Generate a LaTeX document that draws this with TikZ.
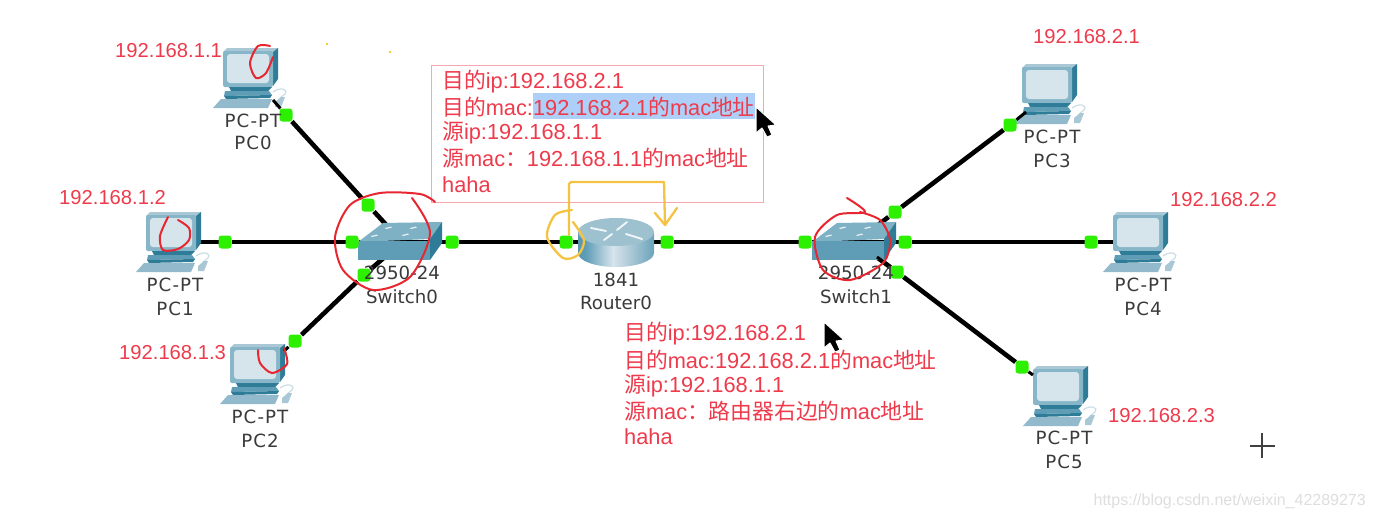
\documentclass[tikz,border=0pt]{standalone}
\usepackage{fontspec}
\setmainfont{Liberation Sans}
\newfontfamily\cjk{Noto Sans CJK SC}
\newfontfamily\devfont{DejaVu Sans}
\newfontfamily\pcfont[LetterSpace=6]{DejaVu Sans}
\usetikzlibrary{backgrounds}
\definecolor{annred}{HTML}{EE3B4C}
\definecolor{inkred}{HTML}{E8262F}
\definecolor{penyellow}{HTML}{F5C344}
\definecolor{portgreen}{HTML}{2CF000}
\definecolor{devteal}{HTML}{5F9DB6}
\definecolor{devdark}{HTML}{2F7C98}
\definecolor{devlight}{HTML}{A9C7D5}
\definecolor{screenc}{HTML}{D6E4EC}
\definecolor{devtext}{HTML}{3A3A3A}
\definecolor{hilite}{HTML}{AECFF7}
\pgfdeclarehorizontalshading{routerbody}{100bp}{
  color(0bp)=(devdark); color(30bp)=(devteal); color(48bp)=(screenc);
  color(60bp)=(devlight); color(78bp)=(devteal); color(100bp)=(devdark)}
\tikzset{
  portdot/.style={fill=portgreen,rounded corners=3pt,minimum size=13pt,inner sep=0pt,outer sep=0pt},
  wire/.style={draw=black,line width=4.6pt},
  devlabel/.style={font=\devfont\fontsize{18.2}{20}\selectfont,text=devtext,inner sep=0pt},
  pclabel/.style={font=\pcfont\fontsize{18.2}{20}\selectfont,text=devtext,inner sep=0pt},
  iplabel/.style={font=\fontsize{20.2}{24}\selectfont,text=annred,inner sep=0pt,anchor=west},
  msgline/.style={font=\fontsize{21.8}{25}\selectfont,text=annred,inner sep=0pt,anchor=west},
  redink/.style={draw=inkred,line width=2pt,line cap=round,line join=round},
  yellowink/.style={draw=penyellow,line width=2.3pt,line cap=round,line join=round},
  pcicon/.pic={
    \fill[devlight] (0,4) -- (4,0) -- (55,0) -- (50,4) -- cycle;
    \fill[devdark] (50,4) -- (55,0) -- (55,31) -- (50,38) -- cycle;
    \fill[devteal!75!white,rounded corners=2pt] (0,3) rectangle (50,39);
    \fill[screenc,rounded corners=3pt] (4,6) rectangle (46,35);
    \fill[devdark] (6,39) -- (49,39) -- (45,43) -- (8,43) -- cycle;
    \fill[devteal] (2,43) -- (46,43) -- (49,47) -- (1,48) -- cycle;
    \fill[devdark] (1,48) -- (49,47) -- (47,50) -- (3,51) -- cycle;
    \fill[devlight!70!devteal] (-2,51) -- (49,51) -- (45,60) -- (-10,60) -- cycle;
    \draw[devlight!60!white,line width=1.2pt] (50,44) .. controls (58,38) and (66,42) .. (62,46) .. controls (60,48) and (58,49) .. (57,50);
    \fill[devlight] (52,54) -- (58,49) -- (62,49) -- (58,59) -- (52,59) -- cycle;
  },
  switchicon/.pic={
    \fill[devteal!80!white] (0,20) -- (25,1) -- (84,0) -- (72,17) -- cycle;
    \fill[devdark] (72,17) -- (84,0) -- (84,21) -- (72,38) -- cycle;
    \fill[devteal] (0,19) rectangle (72,38);
    \foreach \a/\b in {27/6,52/6,13/14,44/13}
      \fill[white!85!devteal] (\a,\b) -- ++(6,-1.5) -- ++(1,1) -- ++(-6,1.5) -- cycle;
  }
}
\newcommand{\cursoricon}[2]{%
  \fill[black,draw=white,line width=1pt,line join=round,shift={(#1,#2)}]
    (0,0) -- (0,26) -- (6,21) -- (11,30) -- (16,28) -- (12,19) -- (20,18) -- cycle;}
\begin{document}
\begin{tikzpicture}[x=1pt,y=-1pt]
\useasboundingbox (0,0) rectangle (1375,520);
% anchors
\coordinate (sw0) at (402,242);
\coordinate (sw1) at (856,242);
\coordinate (r0) at (616,242);
\coordinate (pc0) at (273,100);
\coordinate (pc1) at (195,242);
\coordinate (pc2) at (284,351);
\coordinate (pc3) at (1026,112);
\coordinate (pc4) at (1120,242);
\coordinate (pc5) at (1033,375);
\coordinate (sw1c) at (877,257);
% devices
\pic at (223,48) {pcicon};
\pic at (146,212) {pcicon};
\pic at (230,344) {pcicon};
\pic at (1022,64) {pcicon};
\pic at (1113,212) {pcicon};
\pic at (1033,366) {pcicon};
\pic at (358,222) {switchicon};
\pic at (812,222) {switchicon};
% router
\shade[shading=routerbody] (578,232) -- (578,253) arc[start angle=180,end angle=0,x radius=38,y radius=14] -- (654,232) -- cycle;
\fill[devlight!85!devteal] (616,232) ellipse[x radius=38,y radius=14];
\begin{scope}[white!90!devteal,line width=1.9pt,line cap=round]
  \draw (591,228) -- (606,231);
  \draw (627,222) -- (617,230);
  \draw (626,234) -- (642,239);
  \draw (612,234) -- (604,240);
\end{scope}
% ports
\node[portdot] (p0) at (286,115) {};
\node[portdot] (p1) at (225,242) {};
\node[portdot] (p2) at (295,341) {};
\node[portdot] (p3) at (1010,125) {};
\node[portdot] (p4) at (1091,242) {};
\node[portdot] (p5) at (1022,367) {};
\node[portdot] (s0a) at (368,205) {};
\node[portdot] (s0b) at (352,242) {};
\node[portdot] (s0c) at (364,275) {};
\node[portdot] (s0d) at (452,242) {};
\node[portdot] (rl) at (566,242) {};
\node[portdot] (rr) at (667,242) {};
\node[portdot] (s1l) at (805,242) {};
\node[portdot] (s1a) at (895,212) {};
\node[portdot] (s1b) at (905,242) {};
\node[portdot] (s1c) at (897,272) {};
% short wire ends over the icons
\draw[line width=3pt] (pc0) -- (p0);
\draw[line width=3pt] (pc2) -- (p2);
\draw[line width=3pt] (pc3) -- (p3);
\draw[line width=3pt] (pc5) -- (p5);
\draw[line width=3pt] (sw1c) -- (s1c);
\begin{pgfonlayer}{background}
  \fill[white] (0,0) rectangle (1375,520);
  \fill[hilite] (533,93) rectangle (755,119);
  \draw[annred!45!white,line width=1pt] (431,65) rectangle (763,202);
  \draw[wire] (p0) -- (s0a);
  \draw[wire] (s0a) -- (sw0);
  \draw[wire] (pc1) -- (p1);
  \draw[wire] (p1) -- (s0b);
  \draw[wire] (s0b) -- (sw0);
  \draw[wire] (p2) -- (s0c);
  \draw[wire] (s0c) -- (sw0);
  \draw[wire] (sw0) -- (s0d);
  \draw[wire] (s0d) -- (rl);
  \draw[wire] (rl) -- (r0);
  \draw[wire] (r0) -- (rr);
  \draw[wire] (rr) -- (s1l);
  \draw[wire] (s1l) -- (sw1);
  \draw[wire] (sw1) -- (s1a);
  \draw[wire] (sw1) -- (s1b);
  \draw[wire] (sw1) -- (s1c);
  \draw[wire] (s1a) -- (p3);
  \draw[wire] (s1b) -- (p4);
  \draw[wire] (p4) -- (pc4);
  \draw[wire] (s1c) -- (p5);
\end{pgfonlayer}
% device labels
\node[pclabel] (l0a) at (253,121) {PC-PT};
\node[pclabel] (l0b) at (253,143) {PC0};
\node[pclabel] (l1a) at (175,285) {PC-PT};
\node[pclabel] (l1b) at (175,309) {PC1};
\node[pclabel] (l2a) at (260,417) {PC-PT};
\node[pclabel] (l2b) at (260,441) {PC2};
\node[pclabel] (l3a) at (1052,137) {PC-PT};
\node[pclabel] (l3b) at (1052,161) {PC3};
\node[pclabel] (l4a) at (1143,285) {PC-PT};
\node[pclabel] (l4b) at (1143,309) {PC4};
\node[pclabel] (l5a) at (1064,438) {PC-PT};
\node[pclabel] (l5b) at (1064,462) {PC5};
\node[devlabel] (l6a) at (402,273) {2950-24};
\node[devlabel] (l6b) at (402,297) {Switch0};
\node[devlabel] (l7a) at (856,273) {2950-24};
\node[devlabel] (l7b) at (856,297) {Switch1};
\node[devlabel] (l8a) at (616,280) {1841};
\node[devlabel] (l8b) at (616,303) {Router0};
% ip labels
\node[iplabel] (ip0) at (115,51) {192.168.1.1};
\node[iplabel] (ip1) at (59,198) {192.168.1.2};
\node[iplabel] (ip2) at (119,353) {192.168.1.3};
\node[iplabel] (ip3) at (1033,37) {192.168.2.1};
\node[iplabel] (ip4) at (1170,200) {192.168.2.2};
\node[iplabel] (ip5) at (1108,416) {192.168.2.3};
% message 1
\node[msgline] (m1) at (442,82) {{\cjk 目的}ip:192.168.2.1};
\node[msgline] (m2) at (442,107) {{\cjk 目的}mac:192.168.2.1{\cjk 的}mac{\cjk 地址}};
\node[msgline] (m3) at (442,133) {{\cjk 源}ip:192.168.1.1};
\node[msgline] (m4) at (442,158) {{\cjk 源}mac{\cjk ：}192.168.1.1{\cjk 的}mac{\cjk 地址}};
\node[msgline] (m5) at (442,185) {haha};
% message 2
\node[msgline] (n1) at (624,334) {{\cjk 目的}ip:192.168.2.1};
\node[msgline] (n2) at (624,360) {{\cjk 目的}mac:192.168.2.1{\cjk 的}mac{\cjk 地址}};
\node[msgline] (n3) at (624,386) {{\cjk 源}ip:192.168.1.1};
\node[msgline] (n4) at (624,411) {{\cjk 源}mac{\cjk ：路由器右边的}mac{\cjk 地址}};
\node[msgline] (n5) at (624,437) {haha};
% red pen
\draw[redink] plot[smooth] coordinates {(270,46) (258,46) (250,63) (256,78) (266,73) (273,57)};
\draw[redink] plot[smooth] coordinates {(168,217) (160,236) (163,250) (178,249) (189,240) (189,228) (178,220)};
\draw[redink] plot[smooth] coordinates {(258,350) (260,363) (272,373) (287,364) (284,348)};
\draw[redink] plot[smooth] coordinates {(435,202) (420,194) (380,193) (350,205) (335,237) (343,270) (373,290) (410,277) (430,233) (412,198)};
\draw[redink] plot[smooth] coordinates {(847,198) (865,212) (837,215) (815,237) (823,270) (850,280) (883,263) (890,240) (880,220) (860,212)};
% yellow pen
\draw[yellowink] (569,235) -- (569,184) -- (571,182) -- (664,182) -- (665,225);
\draw[yellowink] (655,213) -- (665,225) -- (677,208);
\draw[yellowink] plot[smooth] coordinates {(572,210) (555,215) (547,237) (563,258) (578,255) (584,240) (573,222)};
% cursors and marks
\cursoricon{756}{107}
\cursoricon{824}{322}
\draw[black!75,line width=1.6pt] (1250,446) -- (1275,446);
\draw[black!75,line width=1.6pt] (1262,433) -- (1262,458);
\fill[orange!60!yellow] (327,44) circle (1.2pt);
\fill[orange!60!yellow] (390,52) circle (1.2pt);
\node[font=\fontsize{16}{18}\selectfont,text=black!13,inner sep=0pt,anchor=east] (wm) at (1366,501) {https://blog.csdn.net/weixin\_42289273};
\end{tikzpicture}
\end{document}
